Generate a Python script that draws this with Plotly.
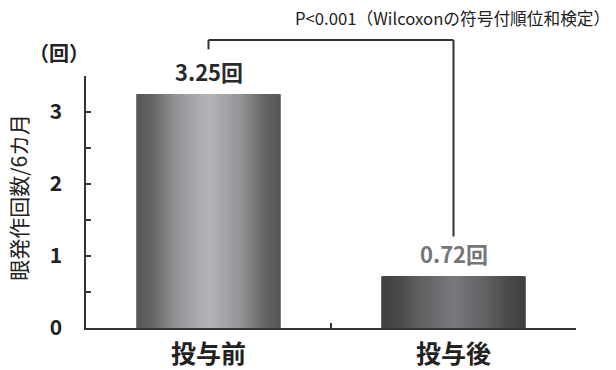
import plotly.graph_objects as go

# ---- data ----
categories = ["投与前", "投与後"]
values = [3.25, 0.72]
value_labels = ["3.25回", "0.72回"]
y_tick_values = [0, 1, 2, 3]
y_tick_labels = ["0", "1", "2", "3"]
y_title = "眼発作回数/6カ月"
unit_label = "（回）"
p_label = "P<0.001（Wilcoxonの符号付順位和検定）"
bracket_top = 4.0
bracket_left_bottom = 3.87
bracket_right_bottom = 1.27

# ---- style ----
Y_MAX = 3.5
BAR_WIDTH = 0.59
N_LAYERS = 48
FONT = "Noto Sans CJK JP"
AXIS_COLOR = "#333333"
# gradient stops: position 0 = bar edge, 1 = bar centre
grad = [
    [(0.0, (86, 86, 88)), (0.2, (100, 100, 102)), (0.55, (148, 148, 151)), (1.0, (181, 182, 186))],
    [(0.0, (64, 64, 66)), (0.2, (72, 72, 74)), (0.55, (98, 98, 101)), (1.0, (121, 122, 125))],
]
label_colors = ["#2a2a2a", "#76767a"]


def interp(stops, t):
    for (p0, c0), (p1, c1) in zip(stops[:-1], stops[1:]):
        if p0 <= t <= p1:
            u = (t - p0) / (p1 - p0)
            c = [round(a + (b - a) * u) for a, b in zip(c0, c1)]
            return "rgb(%d,%d,%d)" % tuple(c)
    return "rgb(%d,%d,%d)" % stops[-1][1]


fig = go.Figure()
for k in range(N_LAYERS):
    f = 1 - k / N_LAYERS
    t = k / N_LAYERS
    fig.add_trace(go.Bar(
        x=categories, y=values,
        width=[BAR_WIDTH * f] * len(categories),
        marker=dict(color=[interp(g, t) for g in grad], line=dict(width=0)),
        hoverinfo="skip", showlegend=False,
    ))

# value labels
for c, v, lab, col in zip(categories, values, value_labels, label_colors):
    fig.add_annotation(x=c, y=v, xref="x", yref="y", text=lab, showarrow=False,
                       yanchor="bottom", yshift=5,
                       font=dict(family=FONT, size=22, color=col, weight="bold"))

# significance bracket (paper coords computed from data)
def xp(i):
    return (i + 0.5) / len(categories)

def yp(v):
    return v / Y_MAX

line = dict(color=AXIS_COLOR, width=2)
fig.add_shape(type="line", xref="paper", yref="paper", x0=xp(0), x1=xp(0),
              y0=yp(bracket_left_bottom), y1=yp(bracket_top), line=line)
fig.add_shape(type="line", xref="paper", yref="paper", x0=xp(0), x1=xp(1),
              y0=yp(bracket_top), y1=yp(bracket_top), line=line)
fig.add_shape(type="line", xref="paper", yref="paper", x0=xp(1), x1=xp(1),
              y0=yp(bracket_right_bottom), y1=yp(bracket_top), line=line)

fig.add_annotation(xref="paper", yref="paper", x=0.423, y=yp(bracket_top) + 0.087,
                   text=p_label, showarrow=False, xanchor="left", yanchor="middle",
                   font=dict(family=FONT, size=16.7, color="#222222"))

fig.add_annotation(xref="paper", yref="paper", x=-0.055, y=1.095, text=unit_label,
                   showarrow=False, xanchor="center", yanchor="middle",
                   font=dict(family=FONT, size=20, color="#222222", weight="bold"))

fig.add_annotation(xref="paper", yref="paper", x=-0.139, y=0.52, text=y_title,
                   showarrow=False, textangle=-90, xanchor="center", yanchor="middle",
                   font=dict(family=FONT, size=21, color="#222222"))

fig.update_layout(
    template="none",
    width=616, height=370,
    margin=dict(l=86, r=40, t=76, b=42),
    barmode="overlay",
    plot_bgcolor="white", paper_bgcolor="white",
    showlegend=False,
    xaxis=dict(
        type="category", range=[-0.5, 1.5], automargin=False,
        showline=True, linecolor=AXIS_COLOR, linewidth=1.5,
        ticks="inside", tickson="boundaries", ticklen=5, tickcolor=AXIS_COLOR, tickwidth=1.5,
        showgrid=False, zeroline=False,
        tickfont=dict(family=FONT, size=25, color="#222222", weight="bold"),
        ticklabelstandoff=3,
    ),
    yaxis=dict(
        range=[0, Y_MAX], tickvals=y_tick_values, ticktext=y_tick_labels, automargin=False,
        showline=True, linecolor=AXIS_COLOR, linewidth=1.5,
        ticks="inside", ticklen=5, tickcolor=AXIS_COLOR, tickwidth=1.5,
        minor=dict(dtick=0.5, tick0=0, ticks="inside", ticklen=5, tickcolor=AXIS_COLOR, tickwidth=1.5),
        showgrid=False, zeroline=False,
        tickfont=dict(family=FONT, size=21, color="#222222", weight="bold"),
        ticklabelstandoff=18,
    ),
)

fig.write_html("out.html")
